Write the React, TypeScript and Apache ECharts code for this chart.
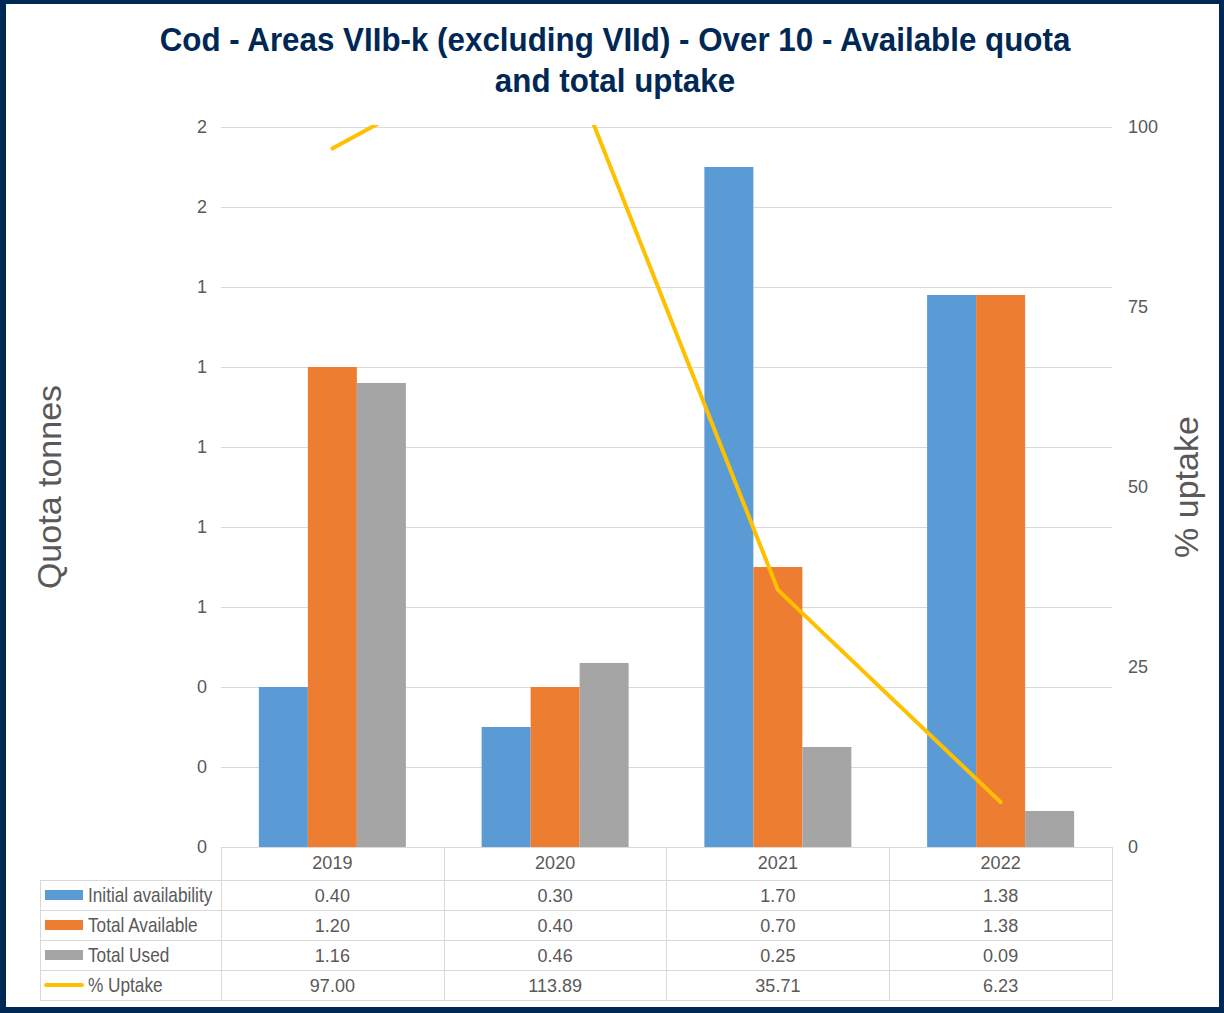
import React, { useEffect, useRef } from "react";
import * as echarts from "echarts";

const categories = ["2019", "2020", "2021", "2022"];
const initialAvailability = [0.4, 0.3, 1.7, 1.38];
const totalAvailable = [1.2, 0.4, 0.7, 1.38];
const totalUsed = [1.16, 0.46, 0.25, 0.09];
const uptakePct = [97.0, 113.89, 35.71, 6.23];

const seriesNames = ["Initial availability", "Total Available", "Total Used", "% Uptake"];
const seriesColors = ["#5B9BD5", "#ED7D31", "#A5A5A5", "#FFC000"];
const tableRows = [initialAvailability, totalAvailable, totalUsed, uptakePct];

const leftAxis = { min: 0, max: 1.8, interval: 0.2 };
const rightAxis = { min: 0, max: 100, interval: 25 };

const W = 1224;
const H = 1013;
const GRID = { left: 221, right: 112, top: 127, bottom: 166 };
const TABLE_TOP = H - GRID.bottom;
const HEADER_H = 33;
const ROW_H = 30;
const TABLE_LEFT = 40;
const REG = '"Liberation Sans", Arial, sans-serif';
const GRID_COLOR = "#D9D9D9";
const TEXT = "#595959";
const NAVY = "#002855";

export default function App() {
  const ref = useRef<HTMLDivElement>(null);

  useEffect(() => {
    document.body.style.margin = "0";
    if (!ref.current) return;
    const chart = echarts.init(ref.current, null, { renderer: "svg" });

    const rowTop = (i: number) => TABLE_TOP + HEADER_H + ROW_H * i;
    const tableRight = W - GRID.right;
    const graphics: any[] = [];

    // border
    graphics.push(
      { type: "rect", shape: { x: 0, y: 0, width: W, height: 4 }, style: { fill: NAVY } },
      { type: "rect", shape: { x: 0, y: 0, width: 6, height: H }, style: { fill: NAVY } },
      { type: "rect", shape: { x: W - 5, y: 0, width: 5, height: H }, style: { fill: NAVY } },
      { type: "rect", shape: { x: 0, y: H - 6, width: W, height: 6 }, style: { fill: NAVY } }
    );

    // title
    const titleLines = ["Cod - Areas VIIb-k (excluding VIId) - Over 10 - Available quota", "and total uptake"];
    titleLines.forEach((t, i) => {
      graphics.push({
        type: "text",
        x: 615,
        y: 40 + i * 41,
        scaleX: 0.95,
        style: {
          text: t,
          fill: NAVY,
          font: `bold 33px ${REG}`,
          textAlign: "center",
          textVerticalAlign: "middle",
        },
      });
    });

    // table lines
    for (let i = 0; i <= tableRows.length; i++) {
      const y = rowTop(i) + 0.5;
      graphics.push({
        type: "line",
        shape: { x1: TABLE_LEFT, y1: y, x2: tableRight, y2: y },
        style: { stroke: GRID_COLOR, lineWidth: 1 },
      });
    }
    graphics.push({
      type: "line",
      shape: { x1: TABLE_LEFT + 0.5, y1: rowTop(0), x2: TABLE_LEFT + 0.5, y2: rowTop(tableRows.length) },
      style: { stroke: GRID_COLOR, lineWidth: 1 },
    });

    // row headers (legend keys)
    seriesNames.forEach((name, i) => {
      const cy = rowTop(i) + ROW_H / 2;
      if (i < 3) {
        graphics.push({
          type: "rect",
          shape: { x: 45, y: cy - 5, width: 38, height: 10 },
          style: { fill: seriesColors[i] },
        });
      } else {
        graphics.push({
          type: "line",
          shape: { x1: 46, y1: cy, x2: 82, y2: cy },
          style: { stroke: seriesColors[i], lineWidth: 4, lineCap: "round" },
        });
      }
      graphics.push({
        type: "text",
        x: 88,
        y: cy,
        scaleX: 0.82,
        style: {
          text: name,
          fill: TEXT,
          font: `21px ${REG}`,
          textAlign: "left",
          textVerticalAlign: "middle",
        },
      });
    });

    const labelBase = { color: TEXT, fontSize: 18, fontFamily: REG };

    const valueAxes = tableRows.map((row, i) => ({
      type: "category",
      data: categories,
      gridIndex: 0,
      position: "bottom",
      offset: 33 + ROW_H * i,
      axisLine: { show: false },
      axisTick: { show: false },
      splitLine: { show: false },
      axisLabel: {
        ...labelBase,
        interval: 0,
        margin: 7,
        formatter: (_v: string, idx: number) => row[idx].toFixed(2),
      },
    }));

    const option: any = {
      animation: false,
      backgroundColor: "#FFFFFF",
      grid: { ...GRID, containLabel: false },
      xAxis: [
        {
          type: "category",
          data: categories,
          gridIndex: 0,
          position: "bottom",
          axisLine: { show: true, lineStyle: { color: GRID_COLOR, width: 1 } },
          axisTick: {
            show: true,
            length: HEADER_H + ROW_H * tableRows.length,
            lineStyle: { color: GRID_COLOR, width: 1 },
          },
          axisLabel: { ...labelBase, interval: 0, margin: 7 },
          splitLine: { show: false },
        },
        ...valueAxes,
      ],
      yAxis: [
        {
          type: "value",
          ...leftAxis,
          name: "Quota tonnes",
          nameLocation: "middle",
          nameRotate: 90,
          nameGap: 155,
          nameTextStyle: { color: TEXT, fontSize: 34, fontFamily: REG },
          axisLine: { show: false },
          axisTick: { show: false },
          axisLabel: {
            color: TEXT,
            fontSize: 18,
            fontFamily: REG,
            margin: 14,
            formatter: (v: number) => String(Math.round(v)),
          },
          splitLine: { show: true, lineStyle: { color: GRID_COLOR, width: 1 } },
        },
        {
          type: "value",
          ...rightAxis,
          position: "right",
          name: "% uptake",
          nameLocation: "middle",
          nameRotate: 90,
          nameGap: 53,
          nameTextStyle: { color: TEXT, fontSize: 34, fontFamily: REG },
          axisLine: { show: false },
          axisTick: { show: false },
          axisLabel: { color: TEXT, fontSize: 18, fontFamily: REG, margin: 16 },
          splitLine: { show: false },
        },
      ],
      series: [
        {
          name: seriesNames[0],
          type: "bar",
          data: initialAvailability,
          itemStyle: { color: seriesColors[0] },
          barGap: "0%",
          barCategoryGap: "34%",
        },
        {
          name: seriesNames[1],
          type: "bar",
          data: totalAvailable,
          itemStyle: { color: seriesColors[1] },
          barGap: "0%",
          barCategoryGap: "34%",
        },
        {
          name: seriesNames[2],
          type: "bar",
          data: totalUsed,
          itemStyle: { color: seriesColors[2] },
          barGap: "0%",
          barCategoryGap: "34%",
        },
        {
          name: seriesNames[3],
          type: "line",
          yAxisIndex: 1,
          data: uptakePct,
          showSymbol: false,
          symbol: "none",
          clip: true,
          lineStyle: { color: seriesColors[3], width: 4, cap: "round", join: "round" },
          itemStyle: { color: seriesColors[3] },
          z: 5,
        },
      ],
      graphic: graphics,
    };

    chart.setOption(option);
    return () => chart.dispose();
  }, []);

  return <div ref={ref} style={{ width: W, height: H }} />;
}
